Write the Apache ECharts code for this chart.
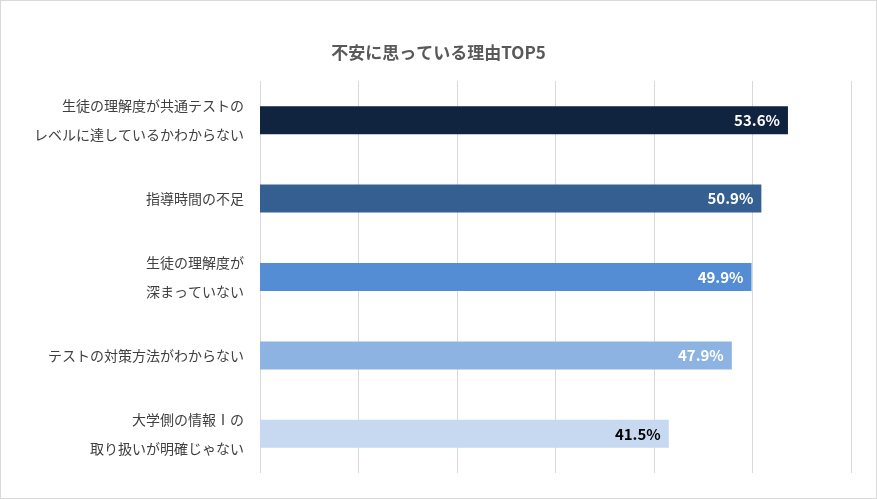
<!DOCTYPE html>
<html><head><meta charset="utf-8">
<script src="https://cdn.jsdelivr.net/npm/echarts@6/dist/echarts.min.js"></script>
<style>html,body{margin:0;padding:0;background:#fff}#c{width:877px;height:499px;box-sizing:border-box;border:1px solid #d9d9d9}</style>
</head><body><div id="c"></div>
<script>
const categories = ["生徒の理解度が共通テストの\nレベルに達しているかわからない","指導時間の不足","生徒の理解度が\n深まっていない","テストの対策方法がわからない","大学側の情報Ⅰの\n取り扱いが明確じゃない"];
const values = [53.6, 50.9, 49.9, 47.9, 41.5];
const colors = ["#10233f","#355f91","#548dd4","#8db3e2","#c6d9f1"];
const labelColors = ["#fff","#fff","#fff","#fff","#000"];
const chart = echarts.init(document.getElementById('c'));
const font = "'Noto Sans CJK JP', sans-serif";
chart.setOption({
  animation:false,
  title:{text:"不安に思っている理由TOP5",left:'center',top:38,textStyle:{color:'#595959',fontSize:17,fontWeight:'bold',fontFamily:font}},
  grid:{left:259,right:25,top:80,bottom:25,containLabel:false},
  xAxis:{type:'value',min:0,max:60,interval:10,axisLabel:{show:false},axisLine:{show:false},axisTick:{show:false},
    splitLine:{lineStyle:{color:'#d9d9d9'}}},
  yAxis:{type:'category',inverse:true,data:categories,axisLine:{show:false},axisTick:{show:false},
    axisLabel:{color:'#404040',fontSize:14,fontFamily:font,lineHeight:29,margin:16,align:'right'}},
  series:[{type:'bar',barWidth:28,
    data:values.map((v,i)=>({value:v,itemStyle:{color:colors[i]},label:{color:labelColors[i]}})),
    label:{show:true,position:'insideRight',formatter:p=>p.value.toFixed(1)+'%',fontSize:15,fontWeight:'bold',fontFamily:font,distance:8}}]
});
</script></body></html>
